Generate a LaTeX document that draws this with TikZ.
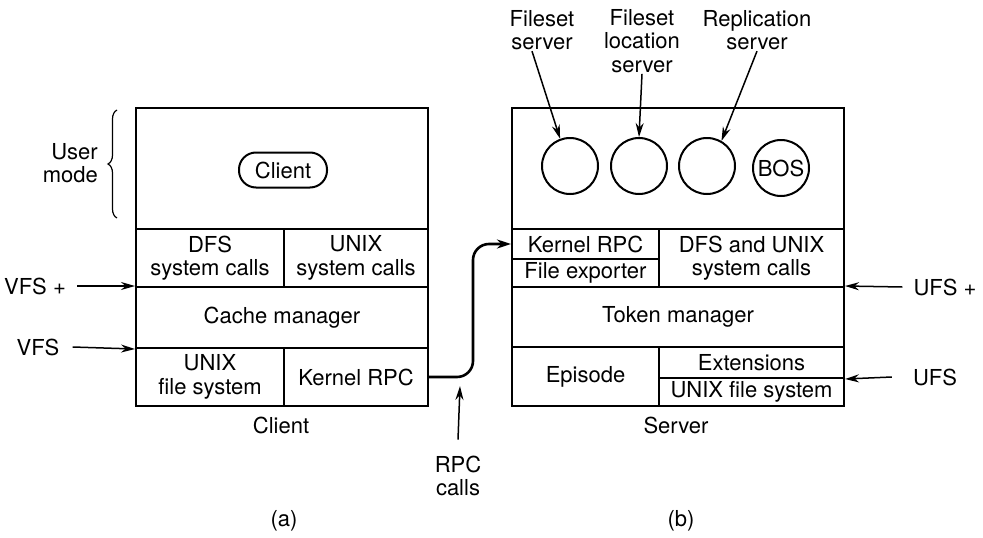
\documentclass[tikz,border=0pt]{standalone}
\usepackage{fontspec}
\setmainfont{TeX Gyre Heros}
\usetikzlibrary{arrows.meta,decorations.pathreplacing}
\tikzset{
  cell/.style={draw,line width=2pt,inner sep=0pt,align=center,anchor=north west},
  proc/.style={draw,circle,line width=2pt,inner sep=0pt,minimum size=56pt},
  lbl/.style={inner sep=1pt,align=center},
  ptr/.style={-{Stealth[length=14pt,width=8pt]},line width=1.5pt},
}
\begin{document}
\begin{tikzpicture}[x=1pt,y=-1pt,font=\fontsize{22}{23.5}\selectfont]
\useasboundingbox (0,0) rectangle (983,538);
% ---------- (a) Client ----------
\node[cell,minimum width=292pt,minimum height=121pt] (cuser) at (135,107) {};
\node[draw,line width=2pt,rounded corners=17pt,inner sep=0pt,
      minimum width=88pt,minimum height=35pt] (client) at (283,170) {Client};
\node[cell,minimum width=148pt,minimum height=58pt] (dfs) at (135,228) {DFS\\system calls};
\node[cell,minimum width=144pt,minimum height=58pt] (unixsc) at (283,228) {UNIX\\system calls};
\node[cell,minimum width=292pt,minimum height=61pt] (cache) at (135,286) {Cache manager};
\node[cell,minimum width=148pt,minimum height=58pt] (cufs) at (135,347) {UNIX\\file system};
\node[cell,minimum width=144pt,minimum height=58pt] (ckrpc) at (283,347) {Kernel RPC};
\node[lbl] (clientlbl) at (281,425) {Client};
\node[lbl] (capa) at (284,521) {(a)};
% User mode 括号
\draw[decorate,decoration={brace,amplitude=9pt},line width=1.2pt] (117,218) -- (117,110);
\node[lbl,anchor=east,align=right] (umode) at (99,163) {User\\mode};
% VFS 接口
\node[lbl] (vfsp) at (35,286) {VFS +};
\draw[ptr] ([xshift=10pt]vfsp.east) -- (cache.north west);
\node[lbl] (vfs) at (38,347) {VFS};
\draw[ptr] ([xshift=12pt]vfs.east) -- (cache.south west);
% ---------- (b) Server ----------
\node[cell,minimum width=332pt,minimum height=121pt] (suser) at (511,107) {};
\node[proc] (fsrv) at (570,166) {};
\node[proc] (flsrv) at (639,166) {};
\node[proc] (rsrv) at (707,166) {};
\node[proc] (bos) at (781,168) {BOS};
\node[cell,minimum width=147pt,minimum height=30pt] (skrpc) at (511,228) {Kernel RPC};
\node[cell,minimum width=147pt,minimum height=28pt] (fexp) at (511,258) {File exporter};
\node[cell,minimum width=185pt,minimum height=58pt] (dfsunix) at (658,228) {DFS and UNIX\\system calls};
\node[cell,minimum width=332pt,minimum height=60pt] (token) at (511,286) {Token manager};
\node[cell,minimum width=147pt,minimum height=59pt] (episode) at (511,346) {Episode};
\node[cell,minimum width=185pt,minimum height=31pt] (ext) at (658,346) {Extensions};
\node[cell,minimum width=185pt,minimum height=28pt] (sufs) at (658,377) {UNIX file system};
\node[lbl] (srvlbl) at (676,425) {Server};
\node[lbl] (capb) at (681,521) {(b)};
% 服务进程标注
\node[lbl] (fsl) at (542,30) {Fileset\\server};
\node[lbl] (fll) at (642,41) {Fileset\\location\\server};
\node[lbl] (rsl) at (757,30) {Replication\\server};
\draw[ptr] ([xshift=-10pt]fsl.south) -- (fsrv.110);
\draw[ptr] (fll.south) -- (flsrv.north);
\draw[ptr] (rsl.south) -- (rsrv.60);
% UFS 接口
\node[lbl] (ufsp) at (945,287) {UFS +};
\draw[ptr] ([xshift=-10pt]ufsp.west) -- (token.north east);
\node[lbl] (ufs) at (935,377) {UFS};
\draw[ptr] ([xshift=-20pt]ufs.west) -- (ext.south east);
% ---------- RPC ----------
\draw[line width=2.6pt,rounded corners=16pt,-{Stealth[length=14pt,width=9pt]}]
  (ckrpc.east) -| ([xshift=-38pt]skrpc.west) -- (skrpc.west);
\node[lbl] (rpcl) at (458,476) {RPC\\calls};
\coordinate (rpctip) at (460,386);
\draw[ptr] ([yshift=15pt]rpcl.north) -- (rpctip);
\end{tikzpicture}
\end{document}
